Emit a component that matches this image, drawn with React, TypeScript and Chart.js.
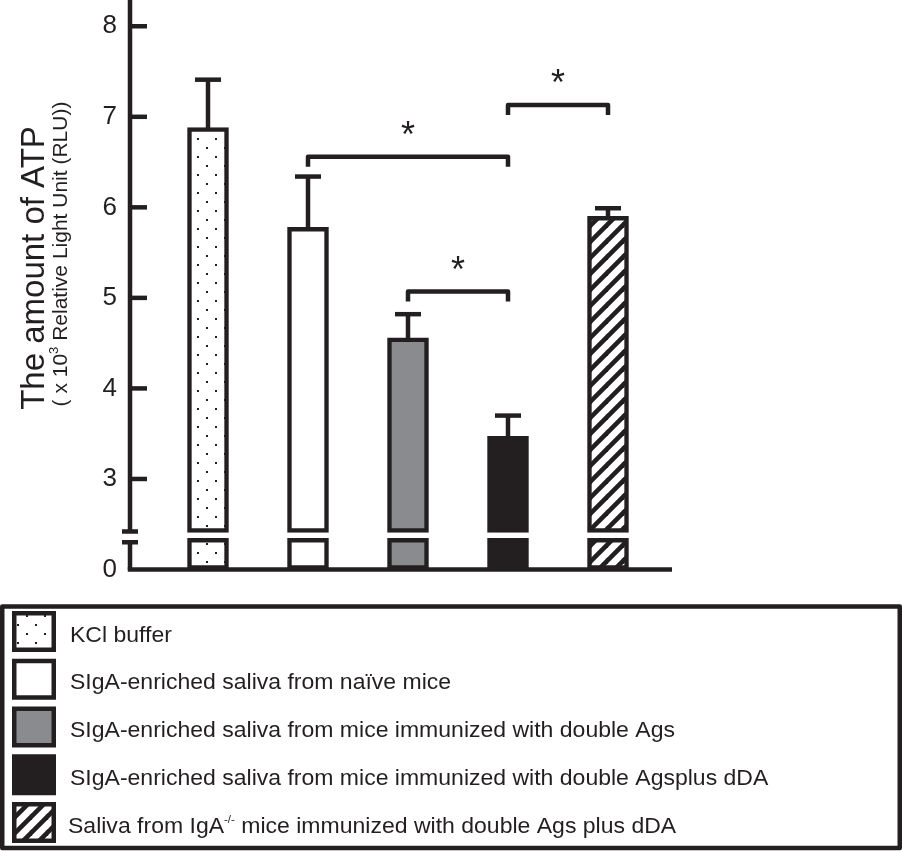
import React, { useEffect, useRef } from 'react';
import { Chart, registerables } from 'chart.js';

Chart.register(...registerables);

// ---------- data ----------
const CATEGORIES = [
  'KCl buffer',
  'SIgA-enriched saliva from naïve mice',
  'SIgA-enriched saliva from mice immunized with double Ags',
  'SIgA-enriched saliva from mice immunized with double Agsplus dDA',
  'Saliva from IgA^{-/-} mice immunized with double Ags plus dDA',
];
const MEANS = [6.88, 5.78, 4.56, 3.47, 5.9];
const SEM = [0.53, 0.56, 0.26, 0.23, 0.09];
const TICK_VALUES = [2, 3, 4, 5, 6, 7, 8];
const TICK_LABELS = ['0', '3', '4', '5', '6', '7', '8'];
const AXIS_BASE = 2; // plotted position of "0" below the axis break
const AXIS_MAX = 8.29;
const AXIS_BREAK = [2.3, 2.42];
const BAR_BREAK = [2.343, 2.409];
const SIG_BRACKETS = [
  { from: 1, to: 3, y: 6.56 },
  { from: 3, to: 4, y: 7.13 },
  { from: 2, to: 3, y: 5.07 },
];
const SIG_LABEL = '*';
const Y_TITLE = 'The amount of ATP';
const Y_SUBTITLE = '( x 10^{3} Relative Light Unit (RLU))';

// ---------- style ----------
const DARK = '#231f20';
const GRAY = '#8a8b8e';
const FONT = '"Liberation Sans", Arial, Helvetica, sans-serif';
const LW = 4.5;

function makeDots(): CanvasPattern | string {
  const c = document.createElement('canvas');
  c.width = 18;
  c.height = 18;
  const g = c.getContext('2d')!;
  g.fillStyle = '#ffffff';
  g.fillRect(0, 0, 18, 18);
  g.fillStyle = DARK;
  g.fillRect(8, 3, 2, 2);
  g.fillRect(17, 12, 1, 2);
  g.fillRect(0, 12, 1, 2);
  return g.createPattern(c, 'repeat') || '#fff';
}

function makeHatch(): CanvasPattern | string {
  const P = 16;
  const c = document.createElement('canvas');
  c.width = P;
  c.height = P;
  const g = c.getContext('2d')!;
  g.fillStyle = '#ffffff';
  g.fillRect(0, 0, P, P);
  g.strokeStyle = DARK;
  g.lineWidth = 4.6;
  g.lineCap = 'square';
  for (const x0 of [-P, 0, P]) {
    g.beginPath();
    g.moveTo(x0, P);
    g.lineTo(x0 + P, 0);
    g.stroke();
  }
  return g.createPattern(c, 'repeat') || '#fff';
}

type Seg = { t: string; sup: boolean };
function parseRich(text: string): Seg[] {
  const out: Seg[] = [];
  const re = /\^\{([^}]*)\}/g;
  let last = 0;
  let m: RegExpExecArray | null;
  while ((m = re.exec(text))) {
    if (m.index > last) out.push({ t: text.slice(last, m.index), sup: false });
    out.push({ t: m[1], sup: true });
    last = m.index + m[0].length;
  }
  if (last < text.length) out.push({ t: text.slice(last), sup: false });
  return out;
}

function drawRich(
  ctx: CanvasRenderingContext2D,
  text: string,
  x: number,
  y: number,
  size: number,
  align: 'left' | 'center',
  supScale = 0.6,
  supRaise = 0.4,
  stretch = 1
) {
  const segs = parseRich(text);
  const widths = segs.map((s) => {
    ctx.font = `${s.sup ? size * supScale : size}px ${FONT}`;
    return ctx.measureText(s.t).width;
  });
  const total = widths.reduce((a, b) => a + b, 0);
  ctx.save();
  ctx.translate(x, y);
  ctx.scale(stretch, 1);
  let cx = align === 'center' ? -total / 2 : 0;
  ctx.textAlign = 'left';
  ctx.textBaseline = 'alphabetic';
  segs.forEach((s, i) => {
    ctx.font = `${s.sup ? size * supScale : size}px ${FONT}`;
    ctx.fillText(s.t, cx, s.sup ? -size * supRaise : 0);
    cx += widths[i];
  });
  ctx.restore();
}

export default function App() {
  const ref = useRef<HTMLCanvasElement | null>(null);

  useEffect(() => {
    const canvas = ref.current;
    if (!canvas) return;
    const dots = makeDots();
    const hatch = makeHatch();
    const FILLS: (string | CanvasPattern)[] = [dots, '#ffffff', GRAY, DARK, hatch];

    const overlay = {
      id: 'overlay',
      afterDatasetsDraw(chart: any) {
        const ctx: CanvasRenderingContext2D = chart.ctx;
        const xs = chart.scales.x;
        const ys = chart.scales.y;
        ctx.save();
        ctx.strokeStyle = DARK;
        ctx.lineWidth = LW;
        ctx.lineCap = 'butt';
        // error bars
        MEANS.forEach((m, i) => {
          const cx = xs.getPixelForValue(i);
          const y0 = ys.getPixelForValue(m);
          const y1 = ys.getPixelForValue(m + SEM[i]);
          ctx.beginPath();
          ctx.moveTo(cx, y0 + 1);
          ctx.lineTo(cx, y1);
          ctx.stroke();
          ctx.beginPath();
          ctx.moveTo(cx - 13, y1);
          ctx.lineTo(cx + 13, y1);
          ctx.stroke();
        });
        ctx.restore();
      },
      afterDraw(chart: any) {
        const ctx: CanvasRenderingContext2D = chart.ctx;
        const xs = chart.scales.x;
        const ys = chart.scales.y;
        const area = chart.chartArea;
        ctx.save();
        ctx.strokeStyle = DARK;
        ctx.fillStyle = DARK;
        ctx.lineWidth = LW;
        ctx.lineCap = 'butt';

        // axes
        const ax = area.left;
        const yb = ys.getPixelForValue(AXIS_BASE);
        const brTop = ys.getPixelForValue(AXIS_BREAK[1]);
        const brBot = ys.getPixelForValue(AXIS_BREAK[0]);
        ctx.beginPath();
        ctx.moveTo(ax - LW / 2, yb);
        ctx.lineTo(area.right, yb);
        ctx.stroke();
        ctx.beginPath();
        ctx.moveTo(ax, area.top);
        ctx.lineTo(ax, brTop);
        ctx.moveTo(ax, brBot);
        ctx.lineTo(ax, yb);
        ctx.stroke();
        ctx.beginPath();
        ctx.moveTo(ax - 8, brTop);
        ctx.lineTo(ax + 8, brTop);
        ctx.moveTo(ax - 8, brBot);
        ctx.lineTo(ax + 8, brBot);
        ctx.stroke();
        // inward ticks
        TICK_VALUES.forEach((v) => {
          if (v <= AXIS_BREAK[1]) return;
          const ty = ys.getPixelForValue(v);
          ctx.beginPath();
          ctx.moveTo(ax, ty);
          ctx.lineTo(ax + 17, ty);
          ctx.stroke();
        });

        // significance brackets
        SIG_BRACKETS.forEach((b) => {
          const x1 = xs.getPixelForValue(b.from);
          const x2 = xs.getPixelForValue(b.to);
          const by = ys.getPixelForValue(b.y);
          ctx.lineJoin = 'round';
          ctx.beginPath();
          ctx.moveTo(x1, by + 10);
          ctx.lineTo(x1, by);
          ctx.lineTo(x2, by);
          ctx.lineTo(x2, by + 10);
          ctx.stroke();
          ctx.font = `36px ${FONT}`;
          const m = ctx.measureText(SIG_LABEL);
          const gx = (x1 + x2) / 2;
          const gy = by - 29;
          const baseY = gy + (m.actualBoundingBoxAscent - m.actualBoundingBoxDescent) / 2;
          const baseX = gx - (m.actualBoundingBoxRight - m.actualBoundingBoxLeft) / 2;
          ctx.textAlign = 'left';
          ctx.textBaseline = 'alphabetic';
          ctx.fillText(SIG_LABEL, baseX, baseY);
        });

        // y titles
        ctx.save();
        ctx.translate(44, 268);
        ctx.rotate(-Math.PI / 2);
        drawRich(ctx, Y_TITLE, 0, 0, 33, 'center');
        ctx.restore();
        ctx.save();
        ctx.translate(67, 254);
        ctx.rotate(-Math.PI / 2);
        drawRich(ctx, Y_SUBTITLE, 0, 0, 21, 'center', 0.62, 0.42);
        ctx.restore();

        // legend
        ctx.lineWidth = 4.5;
        ctx.strokeStyle = DARK;
        ctx.strokeRect(2.25, 606.5, 897.5, 241.5);
        CATEGORIES.forEach((label, i) => {
          const top = 611 + i * 47.75;
          const sx = 12;
          const sw = 44;
          const sh = 41;
          ctx.fillStyle = DARK;
          ctx.fillRect(sx, top, sw, sh);
          ctx.fillStyle = FILLS[i] as any;
          ctx.fillRect(sx + 4.5, top + 4.5, sw - 9, sh - 9);
          ctx.fillStyle = DARK;
          const cy = top + sh / 2 + 2;
          drawRich(ctx, label, i === 4 ? 68 : 70, cy + 8, 22, 'left', 0.5, 0.45, 1.046);
        });
        ctx.restore();
      },
    };

    const upper = MEANS.map((m, i) => ({ x: i, y: [BAR_BREAK[1], m] }));
    const lower = MEANS.map((_, i) => ({ x: i, y: [AXIS_BASE, BAR_BREAK[0]] }));

    const chart = new Chart(canvas, {
      type: 'bar',
      data: {
        datasets: [
          {
            label: 'upper',
            data: upper as any,
            backgroundColor: FILLS as any,
            borderColor: DARK,
            borderWidth: LW,
            borderSkipped: false,
            barThickness: 41,
            grouped: false,
          } as any,
          {
            label: 'lower',
            data: lower as any,
            backgroundColor: FILLS as any,
            borderColor: DARK,
            borderWidth: LW,
            borderSkipped: false,
            barThickness: 41,
            grouped: false,
          } as any,
        ],
      },
      options: {
        animation: false,
        responsive: false,
        devicePixelRatio: 1,
        layout: { padding: { left: 0, top: 0, right: 230, bottom: 281.5 } },
        plugins: { legend: { display: false }, tooltip: { enabled: false } },
        scales: {
          x: { type: 'linear', min: -0.78, max: 4.64, offset: false, display: false },
          y: {
            type: 'linear',
            min: AXIS_BASE,
            max: AXIS_MAX,
            grid: { display: false, drawTicks: false },
            border: { display: false },
            ticks: {
              padding: 13,
              color: DARK,
              font: { family: FONT, size: 26 },
              callback: (v: any) => {
                const idx = TICK_VALUES.indexOf(Number(v));
                return idx >= 0 ? TICK_LABELS[idx] : '';
              },
            },
            afterBuildTicks: (s: any) => {
              s.ticks = TICK_VALUES.map((v) => ({ value: v }));
            },
            afterFit: (s: any) => {
              s.width = 130;
              s.paddingTop = 0;
              s.paddingBottom = 0;
            },
          },
        },
      },
      plugins: [overlay],
    });
    return () => chart.destroy();
  }, []);

  return (
    <div style={{ position: 'absolute', left: 0, top: 0, width: 902, height: 851, background: '#ffffff' }}>
      <canvas ref={ref} width={902} height={851} style={{ display: 'block', width: 902, height: 851 }} />
    </div>
  );
}
